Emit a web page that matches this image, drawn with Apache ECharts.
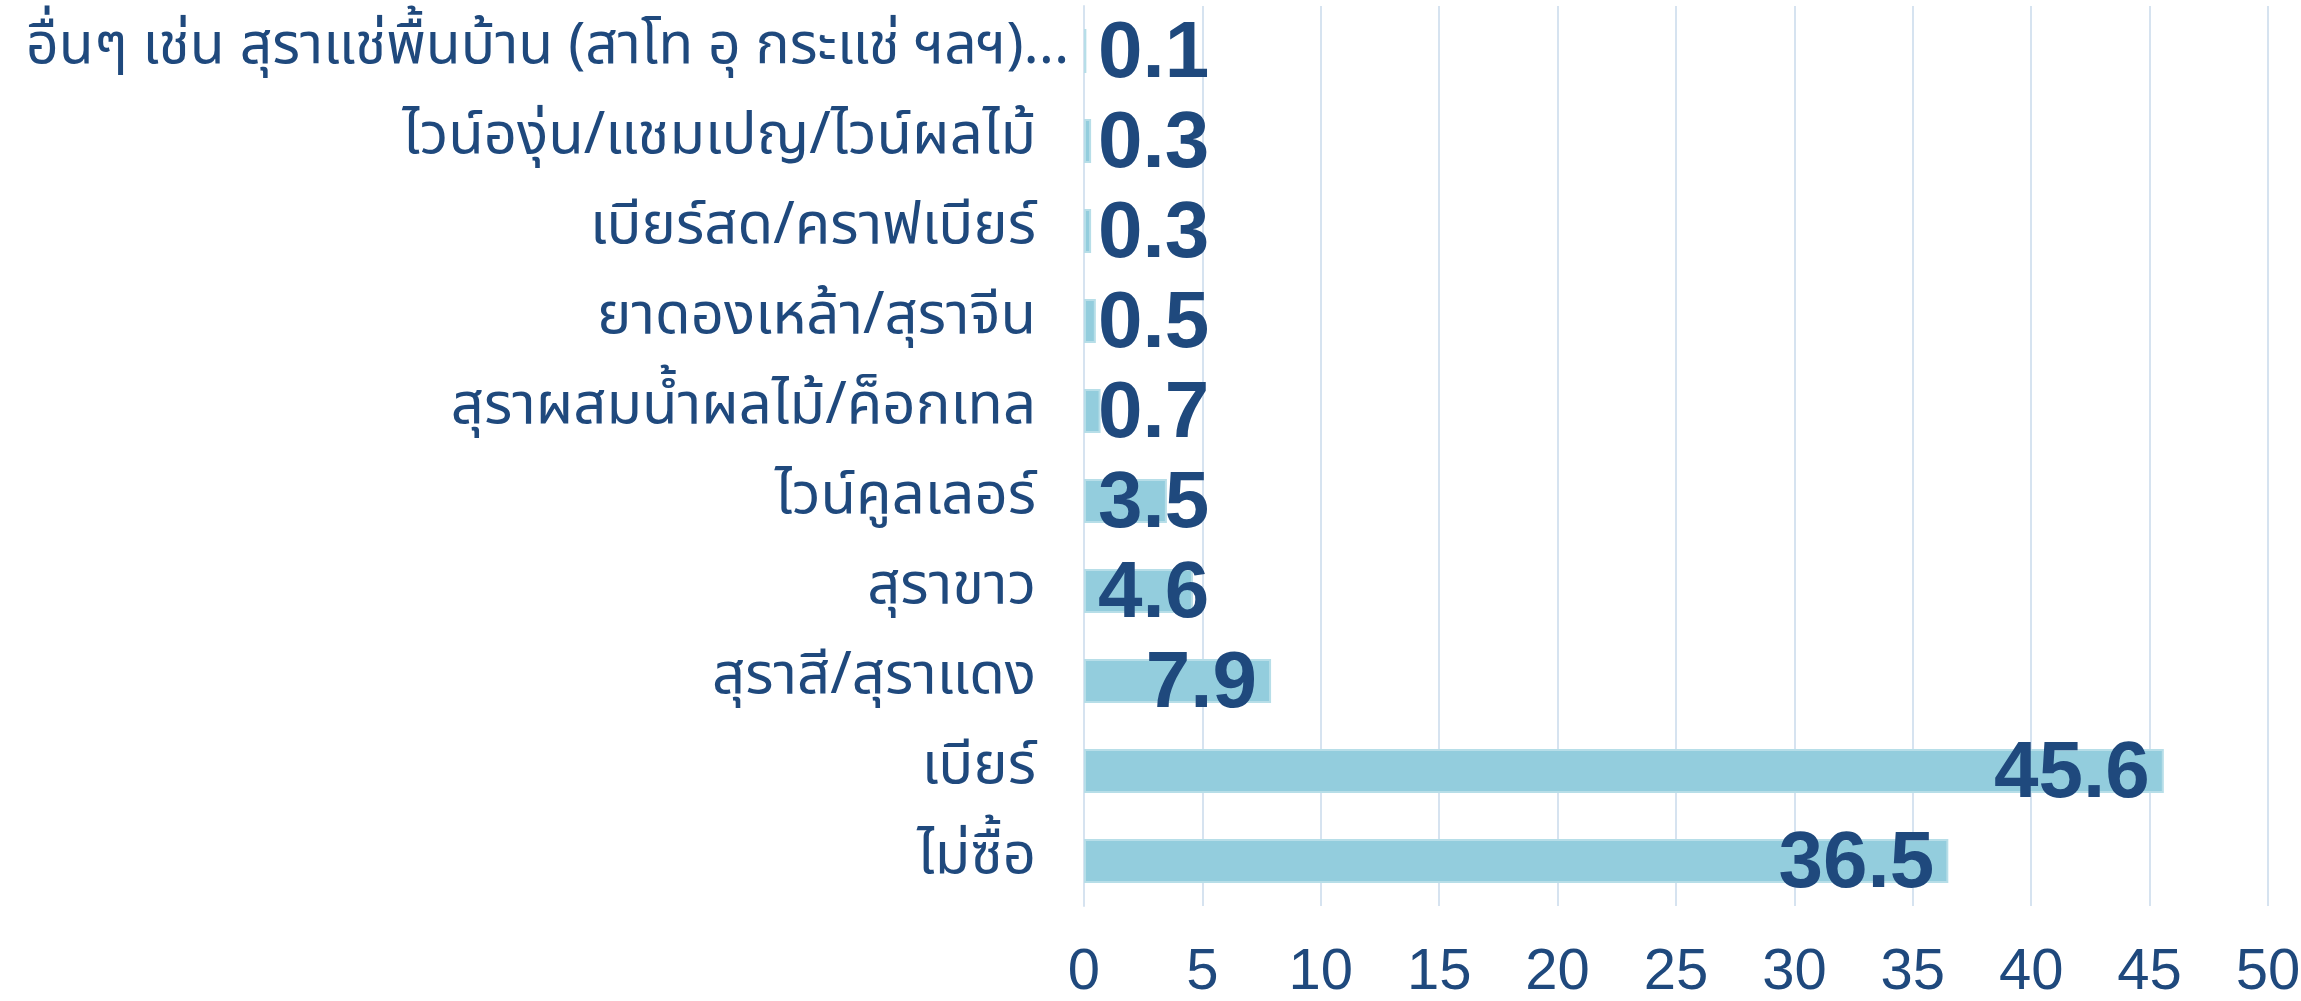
<!DOCTYPE html>
<html><head><meta charset="utf-8">
<script src="https://cdn.jsdelivr.net/npm/echarts@6/dist/echarts.min.js"></script>
<style>html,body{margin:0;padding:0;background:#fff}#c{width:2301px;height:1001px}</style>
</head><body><div id="c"></div>
<script>
const categories = ["ไม่ซื้อ","เบียร์","สุราสี/สุราแดง","สุราขาว","ไวน์คูลเลอร์","สุราผสมน้ำผลไม้/ค็อกเทล","ยาดองเหล้า/สุราจีน","เบียร์สด/คราฟเบียร์","ไวน์องุ่น/แชมเปญ/ไวน์ผลไม้","อื่นๆ เช่น สุราแช่พื้นบ้าน (สาโท อุ กระแช่ ฯลฯ)..."];
const values = [36.5,45.6,7.9,4.6,3.5,0.7,0.5,0.3,0.3,0.1];
const xTicks = [0,5,10,15,20,25,30,35,40,45,50];

const textColor = '#1F497D';
const thaiFont = 'Tahoma, "Noto Sans Thai", "Noto Sans", sans-serif';
const chart = echarts.init(document.getElementById('c'));
chart.setOption({
  animation:false,
  grid:{left:1084,right:33,top:6,bottom:95,containLabel:false,outerBoundsMode:'none'},
  xAxis:{type:'value',min:xTicks[0],max:xTicks[xTicks.length-1],interval:5,
    axisLine:{show:false},axisTick:{show:false},
    splitLine:{show:true,lineStyle:{color:'#D6E3F0',width:2}},
    axisLabel:{color:textColor,fontSize:58,fontFamily:'"Liberation Sans Narrow", "Liberation Sans", sans-serif',margin:38}},
  yAxis:{type:'category',data:categories,
    axisLine:{show:true,lineStyle:{color:'#D6E3F0',width:2}},axisTick:{show:false},
    axisLabel:{color:textColor,fontSize:58,fontFamily:thaiFont,margin:48,
      formatter:(v,i)=> i===categories.length-1 ? '{long|'+v+'}' : v,
      rich:{long:{width:1010,align:'left',overflow:'none',fontSize:57,color:textColor,fontFamily:thaiFont}}}},
  series:[{type:'bar',barWidth:44,
    data:values.map(v=>({value:v,label:{position:v<6?'insideLeft':'insideRight'}})),
    itemStyle:{color:'#93CDDD',borderColor:'#B7DEE8',borderWidth:2},
    label:{show:true,color:textColor,fontSize:80,fontWeight:'bold',fontFamily:'"Liberation Sans", Arial, sans-serif',distance:14,offset:[0,4],
      formatter:p=>p.value.toFixed(1)}}]
});
</script></body></html>
